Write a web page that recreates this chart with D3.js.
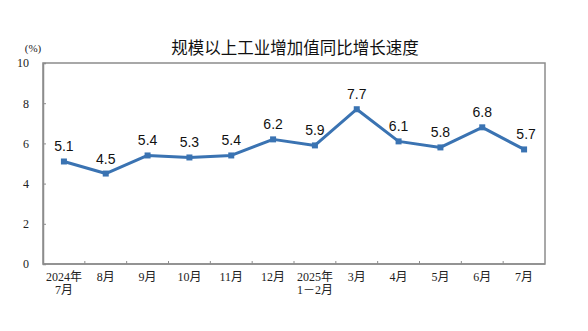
<!DOCTYPE html>
<html>
<head>
<meta charset="utf-8">
<script src="https://cdn.jsdelivr.net/npm/d3@7"></script>
<style>
  html, body { margin: 0; padding: 0; background: #fff; }
  svg { display: block; }
</style>
</head>
<body>
<svg id="chart" width="588" height="331"></svg>
<script>
// Monthly year-on-year growth of industrial value added (%)
const categories = ["2024年\n7月", "8月", "9月", "10月", "11月", "12月", "2025年\n1－2月", "3月", "4月", "5月", "6月", "7月"];
const growth = [5.1, 4.5, 5.4, 5.3, 5.4, 6.2, 5.9, 7.7, 6.1, 5.8, 6.8, 5.7];
const yTicks = [0, 2, 4, 6, 8, 10];
const titleText = "规模以上工业增加值同比增长速度";
const unitText = "(%)";

const svg = d3.select("#chart");
const margin = { left: 43, right: 43, top: 63, bottom: 67 };
const width = 588, height = 331;

const x = d3.scaleBand()
  .domain(d3.range(categories.length))
  .range([margin.left, width - margin.right])
  .paddingInner(0).paddingOuter(0);

const y = d3.scaleLinear()
  .domain([0, 10])
  .range([height - margin.bottom, margin.top]);

const serif = "'Liberation Serif', 'DejaVu Serif', 'Noto Sans CJK SC', serif";
const sans = "'Liberation Sans', Arial, 'Noto Sans CJK SC', sans-serif";
const axisColor = "#8c8c8c";

// Plot frame
svg.append("rect")
  .attr("x", margin.left).attr("y", margin.top)
  .attr("width", width - margin.left - margin.right)
  .attr("height", height - margin.top - margin.bottom)
  .attr("fill", "none").attr("stroke", axisColor).attr("stroke-width", 1.5);

// Y axis
const yAxis = svg.append("g")
  .attr("transform", `translate(${margin.left},0)`)
  .call(d3.axisLeft(y).tickValues(yTicks).tickSize(-3).tickPadding(14));
yAxis.select(".domain").attr("stroke", axisColor).attr("stroke-width", 1.5);
yAxis.selectAll(".tick line").attr("stroke", axisColor);
yAxis.selectAll(".tick text")
  .attr("font-family", serif).attr("font-size", 12).attr("fill", "#222");

// X axis: ticks at category boundaries
const xAxisG = svg.append("g")
  .attr("transform", `translate(0,${y(0)})`);
xAxisG.append("line")
  .attr("x1", margin.left).attr("x2", width - margin.right)
  .attr("stroke", axisColor).attr("stroke-width", 1.5);
xAxisG.selectAll("line.bound")
  .data(d3.range(1, categories.length))
  .join("line")
  .attr("class", "bound")
  .attr("x1", i => x(i)).attr("x2", i => x(i))
  .attr("y1", 0).attr("y2", -3)
  .attr("stroke", axisColor);

const xLabels = xAxisG.selectAll("text.cat")
  .data(categories)
  .join("text")
  .attr("class", "cat")
  .attr("x", (d, i) => x(i) + x.bandwidth() / 2)
  .attr("y", 17)
  .attr("text-anchor", "middle")
  .attr("font-family", serif)
  .attr("font-size", 12)
  .attr("fill", "#222");
xLabels.each(function (d) {
  const lines = d.split("\n");
  d3.select(this).selectAll("tspan")
    .data(lines)
    .join("tspan")
    .attr("x", d3.select(this).attr("x"))
    .attr("dy", (l, j) => j === 0 ? 0 : 13)
    .text(l => l);
});

// Title and unit
svg.append("text")
  .attr("x", 295).attr("y", 54)
  .attr("text-anchor", "middle")
  .attr("font-family", "'Noto Sans CJK SC', sans-serif")
  .attr("font-size", 16.5)
  .attr("fill", "#111")
  .text(titleText);

svg.append("text")
  .attr("x", 33).attr("y", 52)
  .attr("text-anchor", "middle")
  .attr("font-family", serif)
  .attr("font-size", 11)
  .attr("fill", "#222")
  .text(unitText);

// Series line
const lineColor = "#3a73b2";
const cx = i => x(i) + x.bandwidth() / 2;
const line = d3.line()
  .x((d, i) => cx(i))
  .y(d => y(d));

svg.append("path")
  .datum(growth)
  .attr("d", line)
  .attr("fill", "none")
  .attr("stroke", lineColor)
  .attr("stroke-width", 3)
  .attr("stroke-linejoin", "round");

svg.selectAll("rect.marker")
  .data(growth)
  .join("rect")
  .attr("class", "marker")
  .attr("x", (d, i) => cx(i) - 3)
  .attr("y", d => y(d) - 3)
  .attr("width", 6).attr("height", 6)
  .attr("fill", lineColor);

// Value labels
svg.selectAll("text.val")
  .data(growth)
  .join("text")
  .attr("class", "val")
  .attr("x", (d, i) => cx(i) + (i === growth.length - 1 ? 2 : 0))
  .attr("y", d => y(d) - 10)
  .attr("text-anchor", "middle")
  .attr("font-family", sans)
  .attr("font-size", 14)
  .attr("fill", "#111")
  .text(d => d.toFixed(1));
</script>
</body>
</html>
